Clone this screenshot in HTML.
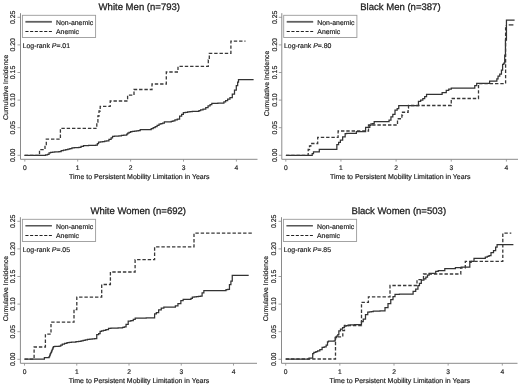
<!DOCTYPE html>
<html><head><meta charset="utf-8"><style>
html,body{margin:0;padding:0;background:#fff;}
svg{display:block;filter:blur(0.35px);}
text{text-rendering:geometricPrecision;font-family:"Liberation Sans", sans-serif;stroke:#222;stroke-width:0.18px;}
</style></head><body>
<svg width="520" height="386" viewBox="0 0 520 386">
<rect width="520" height="386" fill="#fff"/>
<text x="139.3" y="10.1" font-size="9.55" text-anchor="middle" fill="#222" style="stroke-width:0.28px">White Men (n=793)</text>
<path d="M20.5,13.2 V159.3 H257.5" fill="none" stroke="#8a8a8a" stroke-width="1"/>
<path d="M17.5,155.30 H20.5" stroke="#8a8a8a" stroke-width="0.8"/>
<text transform="translate(15.2,155.30) rotate(-90)" font-size="6.9" text-anchor="middle" fill="#222">0.00</text>
<path d="M17.5,127.70 H20.5" stroke="#8a8a8a" stroke-width="0.8"/>
<text transform="translate(15.2,127.70) rotate(-90)" font-size="6.9" text-anchor="middle" fill="#222">0.05</text>
<path d="M17.5,100.10 H20.5" stroke="#8a8a8a" stroke-width="0.8"/>
<text transform="translate(15.2,100.10) rotate(-90)" font-size="6.9" text-anchor="middle" fill="#222">0.10</text>
<path d="M17.5,72.50 H20.5" stroke="#8a8a8a" stroke-width="0.8"/>
<text transform="translate(15.2,72.50) rotate(-90)" font-size="6.9" text-anchor="middle" fill="#222">0.15</text>
<path d="M17.5,44.90 H20.5" stroke="#8a8a8a" stroke-width="0.8"/>
<text transform="translate(15.2,44.90) rotate(-90)" font-size="6.9" text-anchor="middle" fill="#222">0.20</text>
<path d="M17.5,17.30 H20.5" stroke="#8a8a8a" stroke-width="0.8"/>
<text transform="translate(15.2,17.30) rotate(-90)" font-size="6.9" text-anchor="middle" fill="#222">0.25</text>
<path d="M24.80,159.3 V161.60000000000002" stroke="#8a8a8a" stroke-width="0.8"/>
<text x="24.80" y="169.6" font-size="6.7" text-anchor="middle" fill="#222">0</text>
<path d="M77.70,159.3 V161.60000000000002" stroke="#8a8a8a" stroke-width="0.8"/>
<text x="77.70" y="169.6" font-size="6.7" text-anchor="middle" fill="#222">1</text>
<path d="M130.60,159.3 V161.60000000000002" stroke="#8a8a8a" stroke-width="0.8"/>
<text x="130.60" y="169.6" font-size="6.7" text-anchor="middle" fill="#222">2</text>
<path d="M183.50,159.3 V161.60000000000002" stroke="#8a8a8a" stroke-width="0.8"/>
<text x="183.50" y="169.6" font-size="6.7" text-anchor="middle" fill="#222">3</text>
<path d="M236.40,159.3 V161.60000000000002" stroke="#8a8a8a" stroke-width="0.8"/>
<text x="236.40" y="169.6" font-size="6.7" text-anchor="middle" fill="#222">4</text>
<text x="139.3" y="178.9" font-size="7.0" text-anchor="middle" fill="#222">Time to Persistent Mobility Limitation in Years</text>
<text transform="translate(7.5,87.3) rotate(-90)" font-size="6.85" text-anchor="middle" fill="#222">Cumulative Incidence</text>
<rect x="22.4" y="15.3" width="73.2" height="22.2" fill="#fff" stroke="#9a9a9a" stroke-width="0.9"/>
<path d="M25.4,21.8 H51.9" stroke="#606060" stroke-width="1.8"/>
<path d="M25.4,31.5 H51.9" stroke="#222" stroke-width="1" stroke-dasharray="3.1,1.6"/>
<text x="56.0" y="24.6" font-size="6.9" fill="#222">Non-anemic</text>
<text x="56.0" y="34.3" font-size="6.9" fill="#222">Anemic</text>
<text x="22.7" y="48.2" font-size="6.9" fill="#222">Log-rank <tspan font-style="italic">P</tspan>=.01</text>
<path d="M24.40,155.40 L44.60,155.40 L45.58,155.40 L45.58,154.90 L47.52,154.90 L47.52,154.40 L48.50,154.40 L49.05,154.40 L49.05,152.80 L49.60,152.80 L50.55,152.80 L50.55,152.30 L51.50,152.30 L52.56,152.30 L52.56,152.12 L54.69,152.12 L54.69,151.95 L56.81,151.95 L56.81,151.78 L58.94,151.78 L58.94,151.60 L60.00,151.60 L61.15,151.60 L61.15,150.50 L62.30,150.50 L63.45,150.50 L63.45,150.10 L65.75,150.10 L65.75,149.70 L66.90,149.70 L67.88,149.70 L67.88,149.15 L69.83,149.15 L69.83,148.60 L70.80,148.60 L71.95,148.60 L71.95,147.90 L73.10,147.90 L74.25,147.90 L74.25,147.73 L76.55,147.73 L76.55,147.57 L78.85,147.57 L78.85,147.40 L80.00,147.40 L81.00,147.40 L81.00,146.30 L82.00,146.30 L83.50,146.30 L83.50,145.60 L85.00,145.60 L86.19,145.60 L86.19,145.52 L88.57,145.52 L88.57,145.44 L90.95,145.44 L90.95,145.36 L93.33,145.36 L93.33,145.28 L95.71,145.28 L95.71,145.20 L96.90,145.20 L97.35,145.20 L97.35,143.50 L97.80,143.50 L98.55,143.50 L98.55,142.20 L99.30,142.20 L100.40,142.20 L100.40,141.95 L102.60,141.95 L102.60,141.70 L103.70,141.70 L104.65,141.70 L104.65,141.22 L106.55,141.22 L106.55,140.75 L107.50,140.75 L108.95,140.75 L108.95,139.30 L110.40,139.30 L111.10,139.30 L111.10,137.80 L111.80,137.80 L112.55,137.80 L112.55,136.40 L113.30,136.40 L114.42,136.40 L114.42,136.23 L116.65,136.23 L116.65,136.07 L118.88,136.07 L118.88,135.90 L120.00,135.90 L121.45,135.90 L121.45,135.30 L122.90,135.30 L123.74,135.30 L123.74,135.15 L125.41,135.15 L125.41,135.00 L126.25,135.00 L126.72,135.00 L126.72,134.00 L127.20,134.00 L127.70,134.00 L127.70,133.10 L128.20,133.10 L129.02,133.10 L129.02,132.35 L130.68,132.35 L130.68,131.60 L131.50,131.60 L132.47,131.60 L132.47,131.35 L134.43,131.35 L134.43,131.10 L135.40,131.10 L136.35,131.10 L136.35,130.90 L138.25,130.90 L138.25,130.70 L139.20,130.70 L140.20,130.70 L140.20,129.70 L141.20,129.70 L142.32,129.70 L142.32,129.67 L144.57,129.67 L144.57,129.65 L146.82,129.65 L146.82,129.62 L149.07,129.62 L149.07,129.60 L150.20,129.60 L151.20,129.60 L151.20,128.65 L153.20,128.65 L153.20,127.70 L154.20,127.70 L155.17,127.70 L155.17,126.53 L157.10,126.53 L157.10,125.37 L159.03,125.37 L159.03,124.20 L160.00,124.20 L160.88,124.20 L160.88,123.65 L162.62,123.65 L162.62,123.10 L163.50,123.10 L164.35,123.10 L164.35,121.90 L165.20,121.90 L170.40,121.90 L171.25,121.90 L171.25,121.35 L172.95,121.35 L172.95,120.80 L173.80,120.80 L174.95,120.80 L174.95,119.90 L177.25,119.90 L177.25,119.00 L178.40,119.00 L179.60,119.00 L179.60,116.10 L180.80,116.10 L181.65,116.10 L181.65,114.40 L183.35,114.40 L183.35,112.70 L184.20,112.70 L185.35,112.70 L185.35,112.30 L187.65,112.30 L187.65,111.90 L189.95,111.90 L189.95,111.50 L191.10,111.50 L192.27,111.50 L192.27,111.43 L194.60,111.43 L194.60,111.37 L196.93,111.37 L196.93,111.30 L198.10,111.30 L198.95,111.30 L198.95,110.55 L200.65,110.55 L200.65,109.80 L201.50,109.80 L203.05,109.80 L203.05,109.20 L204.60,109.20 L205.75,109.20 L205.75,107.50 L208.05,107.50 L208.05,105.80 L209.20,105.80 L210.07,105.80 L210.07,104.60 L211.82,104.60 L211.82,103.40 L212.70,103.40 L213.73,103.40 L213.73,103.34 L215.79,103.34 L215.79,103.28 L217.85,103.28 L217.85,103.22 L219.91,103.22 L219.91,103.16 L221.97,103.16 L221.97,103.10 L223.00,103.10 L223.88,103.10 L223.88,101.85 L225.62,101.85 L225.62,100.60 L226.50,100.60 L227.65,100.60 L227.65,99.15 L229.95,99.15 L229.95,97.70 L231.10,97.70 L232.30,97.70 L232.30,94.00 L233.50,94.00 L234.50,94.00 L234.50,90.00 L235.50,90.00 L236.30,90.00 L236.30,85.50 L237.10,85.50 L237.65,85.50 L237.65,82.00 L238.20,82.00 L238.50,82.00 L238.50,79.50 L238.80,79.50 L253.60,79.50" fill="none" stroke="#333" stroke-width="1.25" stroke-linejoin="miter"/>
<path d="M24.70,155.30 L39.50,155.30 L39.50,149.70 L45.00,149.70 L45.00,144.50 L46.30,144.50 L46.30,139.20 L60.40,139.20 L60.40,128.40 L96.80,128.40 L96.80,122.00 L97.90,122.00 L97.90,116.00 L99.00,116.00 L99.00,111.00 L100.20,111.00 L100.20,106.40 L110.20,106.40 L110.20,101.00 L127.60,101.00 L127.60,95.20 L134.00,95.20 L134.00,89.50 L152.00,89.50 L152.00,84.00 L166.30,84.00 L166.30,72.00 L178.00,72.00 L178.00,66.30 L208.30,66.30 L208.30,60.00 L209.30,60.00 L209.30,53.30 L230.90,53.30 L230.90,41.10 L245.50,41.10" fill="none" stroke="#383838" stroke-width="1.3" stroke-dasharray="3.4,1.9"/>
<text x="400.4" y="10.1" font-size="9.55" text-anchor="middle" fill="#222" style="stroke-width:0.28px">Black Men (n=387)</text>
<path d="M281.8,13.2 V159.3 H518.0" fill="none" stroke="#8a8a8a" stroke-width="1"/>
<path d="M278.8,155.30 H281.8" stroke="#8a8a8a" stroke-width="0.8"/>
<text transform="translate(276.5,155.30) rotate(-90)" font-size="6.9" text-anchor="middle" fill="#222">0.00</text>
<path d="M278.8,127.70 H281.8" stroke="#8a8a8a" stroke-width="0.8"/>
<text transform="translate(276.5,127.70) rotate(-90)" font-size="6.9" text-anchor="middle" fill="#222">0.05</text>
<path d="M278.8,100.10 H281.8" stroke="#8a8a8a" stroke-width="0.8"/>
<text transform="translate(276.5,100.10) rotate(-90)" font-size="6.9" text-anchor="middle" fill="#222">0.10</text>
<path d="M278.8,72.50 H281.8" stroke="#8a8a8a" stroke-width="0.8"/>
<text transform="translate(276.5,72.50) rotate(-90)" font-size="6.9" text-anchor="middle" fill="#222">0.15</text>
<path d="M278.8,44.90 H281.8" stroke="#8a8a8a" stroke-width="0.8"/>
<text transform="translate(276.5,44.90) rotate(-90)" font-size="6.9" text-anchor="middle" fill="#222">0.20</text>
<path d="M278.8,17.30 H281.8" stroke="#8a8a8a" stroke-width="0.8"/>
<text transform="translate(276.5,17.30) rotate(-90)" font-size="6.9" text-anchor="middle" fill="#222">0.25</text>
<path d="M285.80,159.3 V161.60000000000002" stroke="#8a8a8a" stroke-width="0.8"/>
<text x="285.80" y="169.6" font-size="6.7" text-anchor="middle" fill="#222">0</text>
<path d="M340.95,159.3 V161.60000000000002" stroke="#8a8a8a" stroke-width="0.8"/>
<text x="340.95" y="169.6" font-size="6.7" text-anchor="middle" fill="#222">1</text>
<path d="M396.10,159.3 V161.60000000000002" stroke="#8a8a8a" stroke-width="0.8"/>
<text x="396.10" y="169.6" font-size="6.7" text-anchor="middle" fill="#222">2</text>
<path d="M451.25,159.3 V161.60000000000002" stroke="#8a8a8a" stroke-width="0.8"/>
<text x="451.25" y="169.6" font-size="6.7" text-anchor="middle" fill="#222">3</text>
<path d="M506.40,159.3 V161.60000000000002" stroke="#8a8a8a" stroke-width="0.8"/>
<text x="506.40" y="169.6" font-size="6.7" text-anchor="middle" fill="#222">4</text>
<text x="400.2" y="178.9" font-size="7.0" text-anchor="middle" fill="#222">Time to Persistent Mobility Limitation in Years</text>
<text transform="translate(268.8,83.5) rotate(-90)" font-size="6.85" text-anchor="middle" fill="#222">Cumulative Incidence</text>
<rect x="283.7" y="15.3" width="73.2" height="22.2" fill="#fff" stroke="#9a9a9a" stroke-width="0.9"/>
<path d="M286.7,21.8 H313.2" stroke="#606060" stroke-width="1.8"/>
<path d="M286.7,31.5 H313.2" stroke="#222" stroke-width="1" stroke-dasharray="3.1,1.6"/>
<text x="317.3" y="24.6" font-size="6.9" fill="#222">Non-anemic</text>
<text x="317.3" y="34.3" font-size="6.9" fill="#222">Anemic</text>
<text x="284.0" y="48.2" font-size="6.9" fill="#222">Log-rank <tspan font-style="italic">P</tspan>=.80</text>
<path d="M285.90,155.40 L312.20,155.40 L312.20,153.50 L313.50,153.50 L313.50,151.90 L319.30,151.90 L319.30,149.40 L336.00,149.40 L336.85,149.40 L336.85,144.60 L337.70,144.60 L338.60,144.60 L338.60,142.30 L340.40,142.30 L340.40,140.00 L341.30,140.00 L342.65,140.00 L342.65,136.80 L344.00,136.80 L345.15,136.80 L345.15,133.60 L346.30,133.60 L346.65,133.60 L346.65,133.40 L347.00,133.40 L355.80,133.40 L356.35,133.40 L356.35,131.50 L356.90,131.50 L365.40,131.50 L365.60,131.50 L365.60,127.30 L365.80,127.30 L369.20,127.30 L369.80,127.30 L369.80,125.40 L370.40,125.40 L370.95,125.40 L370.95,123.80 L371.50,123.80 L372.65,123.80 L372.65,123.50 L373.80,123.50 L374.20,123.50 L374.20,121.50 L374.60,121.50 L388.10,121.50 L389.05,121.50 L389.05,120.00 L390.00,120.00 L390.95,120.00 L390.95,116.90 L391.90,116.90 L392.82,116.90 L392.82,114.40 L393.75,114.40 L395.00,114.40 L395.00,110.00 L396.25,110.00 L397.18,110.00 L397.18,108.50 L398.10,108.50 L398.75,108.50 L398.75,105.60 L399.40,105.60 L417.50,105.60 L418.45,105.60 L418.45,101.25 L419.40,101.25 L420.65,101.25 L420.65,100.00 L421.90,100.00 L422.82,100.00 L422.82,98.50 L423.75,98.50 L424.68,98.50 L424.68,96.50 L425.60,96.50 L426.55,96.50 L426.55,94.40 L427.50,94.40 L441.25,94.40 L442.12,94.40 L442.12,92.50 L443.00,92.50 L445.00,92.50 L446.25,92.50 L446.25,90.25 L447.50,90.25 L448.75,90.25 L448.75,89.17 L451.25,89.17 L451.25,88.10 L452.50,88.10 L473.75,88.10 L474.77,88.10 L474.77,85.50 L475.80,85.50 L476.70,85.50 L476.70,83.30 L477.60,83.30 L489.20,83.30 L489.60,83.30 L489.60,81.20 L490.00,81.20 L496.20,81.20 L496.85,81.20 L496.85,78.90 L497.50,78.90 L498.05,78.90 L498.05,76.00 L498.60,76.00 L499.75,76.00 L499.75,74.20 L500.90,74.20 L501.45,74.20 L501.45,70.20 L502.00,70.20 L502.60,70.20 L502.60,64.30 L503.20,64.30 L503.80,64.30 L503.80,63.20 L504.40,63.20 L504.70,63.20 L504.70,55.00 L505.00,55.00 L505.45,55.00 L505.45,40.00 L505.90,40.00 L506.45,40.00 L506.45,20.20 L507.00,20.20 L514.60,20.20" fill="none" stroke="#333" stroke-width="1.25" stroke-linejoin="miter"/>
<path d="M285.90,155.40 L308.20,155.40 L308.20,149.50 L309.50,149.50 L309.50,146.00 L310.80,146.00 L310.80,143.50 L317.70,143.50 L317.70,137.30 L338.10,137.30 L338.10,131.00 L368.50,131.00 L368.50,125.00 L397.50,125.00 L397.50,118.75 L401.90,118.75 L401.90,115.00 L402.50,115.00 L402.50,112.25 L408.10,112.25 L408.10,108.10 L408.50,108.10 L408.50,105.50 L451.25,105.50 L451.25,98.50 L478.50,98.50 L478.50,83.60 L505.60,83.60 L505.60,24.90" fill="none" stroke="#383838" stroke-width="1.3" stroke-dasharray="3.4,1.9"/>
<path d="M508.7,24.9 H513.4" stroke="#383838" stroke-width="1.3"/>
<text x="138.2" y="214.1" font-size="9.55" text-anchor="middle" fill="#222" style="stroke-width:0.28px">White Women (n=692)</text>
<path d="M20.4,217.2 V363.3 H257.0" fill="none" stroke="#8a8a8a" stroke-width="1"/>
<path d="M17.4,359.30 H20.4" stroke="#8a8a8a" stroke-width="0.8"/>
<text transform="translate(15.1,359.30) rotate(-90)" font-size="6.9" text-anchor="middle" fill="#222">0.00</text>
<path d="M17.4,331.70 H20.4" stroke="#8a8a8a" stroke-width="0.8"/>
<text transform="translate(15.1,331.70) rotate(-90)" font-size="6.9" text-anchor="middle" fill="#222">0.05</text>
<path d="M17.4,304.10 H20.4" stroke="#8a8a8a" stroke-width="0.8"/>
<text transform="translate(15.1,304.10) rotate(-90)" font-size="6.9" text-anchor="middle" fill="#222">0.10</text>
<path d="M17.4,276.50 H20.4" stroke="#8a8a8a" stroke-width="0.8"/>
<text transform="translate(15.1,276.50) rotate(-90)" font-size="6.9" text-anchor="middle" fill="#222">0.15</text>
<path d="M17.4,248.90 H20.4" stroke="#8a8a8a" stroke-width="0.8"/>
<text transform="translate(15.1,248.90) rotate(-90)" font-size="6.9" text-anchor="middle" fill="#222">0.20</text>
<path d="M17.4,221.30 H20.4" stroke="#8a8a8a" stroke-width="0.8"/>
<text transform="translate(15.1,221.30) rotate(-90)" font-size="6.9" text-anchor="middle" fill="#222">0.25</text>
<path d="M24.50,363.3 V365.6" stroke="#8a8a8a" stroke-width="0.8"/>
<text x="24.50" y="373.6" font-size="6.7" text-anchor="middle" fill="#222">0</text>
<path d="M76.75,363.3 V365.6" stroke="#8a8a8a" stroke-width="0.8"/>
<text x="76.75" y="373.6" font-size="6.7" text-anchor="middle" fill="#222">1</text>
<path d="M129.00,363.3 V365.6" stroke="#8a8a8a" stroke-width="0.8"/>
<text x="129.00" y="373.6" font-size="6.7" text-anchor="middle" fill="#222">2</text>
<path d="M181.25,363.3 V365.6" stroke="#8a8a8a" stroke-width="0.8"/>
<text x="181.25" y="373.6" font-size="6.7" text-anchor="middle" fill="#222">3</text>
<path d="M233.50,363.3 V365.6" stroke="#8a8a8a" stroke-width="0.8"/>
<text x="233.50" y="373.6" font-size="6.7" text-anchor="middle" fill="#222">4</text>
<text x="139.0" y="382.9" font-size="7.0" text-anchor="middle" fill="#222">Time to Persistent Mobility Limitation in Years</text>
<text transform="translate(7.5,288.6) rotate(-90)" font-size="6.85" text-anchor="middle" fill="#222">Cumulative Incidence</text>
<rect x="22.4" y="219.3" width="73.2" height="22.2" fill="#fff" stroke="#9a9a9a" stroke-width="0.9"/>
<path d="M25.4,225.8 H51.9" stroke="#3a3a3a" stroke-width="1.3"/>
<path d="M25.4,235.5 H51.9" stroke="#222" stroke-width="1" stroke-dasharray="3.1,1.6"/>
<text x="56.0" y="228.6" font-size="6.9" fill="#222">Non-anemic</text>
<text x="56.0" y="238.3" font-size="6.9" fill="#222">Anemic</text>
<text x="22.7" y="252.2" font-size="6.9" fill="#222">Log-rank <tspan font-style="italic">P</tspan>=.05</text>
<path d="M24.50,359.10 L44.40,359.10 L44.40,357.50 L48.80,357.50 L49.10,357.50 L49.10,356.60 L49.40,356.60 L49.70,356.60 L49.70,355.00 L50.00,355.00 L50.30,355.00 L50.30,353.60 L50.60,353.60 L50.90,353.60 L50.90,352.30 L51.20,352.30 L51.55,352.30 L51.55,350.80 L51.90,350.80 L52.20,350.80 L52.20,349.30 L52.50,349.30 L52.80,349.30 L52.80,347.90 L53.10,347.90 L53.40,347.90 L53.40,346.50 L53.70,346.50 L54.78,346.50 L54.78,346.40 L56.95,346.40 L56.95,346.30 L59.12,346.30 L59.12,346.20 L60.20,346.20 L60.75,346.20 L60.75,345.20 L61.30,345.20 L62.30,345.20 L62.30,344.10 L63.30,344.10 L64.53,344.10 L64.53,343.30 L66.97,343.30 L66.97,342.50 L68.20,342.50 L69.27,342.50 L69.27,342.33 L71.40,342.33 L71.40,342.17 L73.53,342.17 L73.53,342.00 L74.60,342.00 L75.95,342.00 L75.95,341.62 L78.65,341.62 L78.65,341.25 L80.00,341.25 L81.04,341.25 L81.04,340.75 L83.12,340.75 L83.12,340.25 L85.21,340.25 L85.21,339.75 L86.25,339.75 L87.44,339.75 L87.44,339.46 L89.83,339.46 L89.83,339.18 L92.22,339.18 L92.22,338.89 L94.61,338.89 L94.61,338.60 L95.80,338.60 L96.75,338.60 L96.75,334.70 L97.70,334.70 L98.65,334.70 L98.65,333.60 L99.60,333.60 L100.10,333.60 L100.10,331.30 L100.60,331.30 L101.55,331.30 L101.55,330.85 L103.45,330.85 L103.45,330.40 L104.40,330.40 L105.85,330.40 L105.85,329.70 L107.30,329.70 L108.50,329.70 L108.50,328.30 L109.70,328.30 L110.90,328.30 L110.90,328.20 L113.30,328.20 L113.30,328.10 L115.70,328.10 L115.70,328.00 L118.10,328.00 L118.10,327.90 L120.50,327.90 L120.50,327.80 L121.70,327.80 L122.55,327.80 L122.55,327.30 L124.25,327.30 L124.25,326.80 L125.10,326.80 L126.05,326.80 L126.05,324.40 L127.00,324.40 L128.20,324.40 L128.20,321.10 L129.40,321.10 L130.85,321.10 L130.85,320.60 L132.30,320.60 L133.28,320.60 L133.28,319.40 L135.22,319.40 L135.22,318.20 L136.20,318.20 L137.31,318.20 L137.31,318.15 L139.54,318.15 L139.54,318.10 L141.76,318.10 L141.76,318.05 L143.99,318.05 L143.99,318.00 L146.21,318.00 L146.21,317.95 L148.44,317.95 L148.44,317.90 L150.66,317.90 L150.66,317.85 L152.89,317.85 L152.89,317.80 L154.00,317.80 L154.60,317.80 L154.60,313.80 L155.20,313.80 L156.35,313.80 L156.35,312.70 L157.50,312.70 L158.65,312.70 L158.65,309.80 L159.80,309.80 L161.25,309.80 L161.25,308.10 L162.70,308.10 L163.85,308.10 L163.85,307.10 L165.00,307.10 L174.20,307.10 L175.35,307.10 L175.35,305.80 L176.50,305.80 L177.95,305.80 L177.95,303.50 L179.40,303.50 L180.85,303.50 L180.85,300.60 L182.30,300.60 L183.15,300.60 L183.15,299.40 L184.00,299.40 L190.40,299.40 L190.95,299.40 L190.95,298.30 L191.50,298.30 L192.35,298.30 L192.35,297.10 L193.20,297.10 L194.27,297.10 L194.27,296.80 L196.43,296.80 L196.43,296.50 L197.50,296.50 L198.50,296.50 L198.50,296.25 L200.50,296.25 L200.50,296.00 L201.50,296.00 L202.10,296.00 L202.10,292.90 L202.70,292.90 L203.85,292.90 L203.85,290.50 L205.00,290.50 L225.40,290.50 L226.00,290.50 L226.00,289.70 L226.60,289.70 L227.75,289.70 L227.75,289.40 L228.90,289.40 L229.45,289.40 L229.45,284.70 L230.00,284.70 L230.90,284.70 L230.90,281.20 L231.80,281.20 L232.25,281.20 L232.25,275.40 L232.70,275.40 L248.70,275.40" fill="none" stroke="#333" stroke-width="1.25" stroke-linejoin="miter"/>
<path d="M24.50,359.10 L34.10,359.10 L34.10,347.00 L45.40,347.00 L45.40,334.20 L51.00,334.20 L51.00,322.20 L74.00,322.20 L74.00,309.60 L76.80,309.60 L76.80,297.10 L101.70,297.10 L101.70,284.50 L110.40,284.50 L110.40,272.00 L135.10,272.00 L135.10,259.70 L154.60,259.70 L154.60,246.90 L194.00,246.90 L194.00,233.20 L252.60,233.20" fill="none" stroke="#383838" stroke-width="1.3" stroke-dasharray="3.4,1.9"/>
<text x="398.8" y="214.1" font-size="9.55" text-anchor="middle" fill="#222" style="stroke-width:0.28px">Black Women (n=503)</text>
<path d="M281.5,217.2 V363.3 H517.5" fill="none" stroke="#8a8a8a" stroke-width="1"/>
<path d="M278.5,359.30 H281.5" stroke="#8a8a8a" stroke-width="0.8"/>
<text transform="translate(276.2,359.30) rotate(-90)" font-size="6.9" text-anchor="middle" fill="#222">0.00</text>
<path d="M278.5,331.70 H281.5" stroke="#8a8a8a" stroke-width="0.8"/>
<text transform="translate(276.2,331.70) rotate(-90)" font-size="6.9" text-anchor="middle" fill="#222">0.05</text>
<path d="M278.5,304.10 H281.5" stroke="#8a8a8a" stroke-width="0.8"/>
<text transform="translate(276.2,304.10) rotate(-90)" font-size="6.9" text-anchor="middle" fill="#222">0.10</text>
<path d="M278.5,276.50 H281.5" stroke="#8a8a8a" stroke-width="0.8"/>
<text transform="translate(276.2,276.50) rotate(-90)" font-size="6.9" text-anchor="middle" fill="#222">0.15</text>
<path d="M278.5,248.90 H281.5" stroke="#8a8a8a" stroke-width="0.8"/>
<text transform="translate(276.2,248.90) rotate(-90)" font-size="6.9" text-anchor="middle" fill="#222">0.20</text>
<path d="M278.5,221.30 H281.5" stroke="#8a8a8a" stroke-width="0.8"/>
<text transform="translate(276.2,221.30) rotate(-90)" font-size="6.9" text-anchor="middle" fill="#222">0.25</text>
<path d="M285.70,363.3 V365.6" stroke="#8a8a8a" stroke-width="0.8"/>
<text x="285.70" y="373.6" font-size="6.7" text-anchor="middle" fill="#222">0</text>
<path d="M339.85,363.3 V365.6" stroke="#8a8a8a" stroke-width="0.8"/>
<text x="339.85" y="373.6" font-size="6.7" text-anchor="middle" fill="#222">1</text>
<path d="M394.00,363.3 V365.6" stroke="#8a8a8a" stroke-width="0.8"/>
<text x="394.00" y="373.6" font-size="6.7" text-anchor="middle" fill="#222">2</text>
<path d="M448.15,363.3 V365.6" stroke="#8a8a8a" stroke-width="0.8"/>
<text x="448.15" y="373.6" font-size="6.7" text-anchor="middle" fill="#222">3</text>
<path d="M502.30,363.3 V365.6" stroke="#8a8a8a" stroke-width="0.8"/>
<text x="502.30" y="373.6" font-size="6.7" text-anchor="middle" fill="#222">4</text>
<text x="399.8" y="382.9" font-size="7.0" text-anchor="middle" fill="#222">Time to Persistent Mobility Limitation in Years</text>
<text transform="translate(268.4,288.6) rotate(-90)" font-size="6.85" text-anchor="middle" fill="#222">Cumulative Incidence</text>
<rect x="283.4" y="219.3" width="73.2" height="22.2" fill="#fff" stroke="#9a9a9a" stroke-width="0.9"/>
<path d="M286.4,225.8 H312.9" stroke="#3a3a3a" stroke-width="1.3"/>
<path d="M286.4,235.5 H312.9" stroke="#222" stroke-width="1" stroke-dasharray="3.1,1.6"/>
<text x="317.0" y="228.6" font-size="6.9" fill="#222">Non-anemic</text>
<text x="317.0" y="238.3" font-size="6.9" fill="#222">Anemic</text>
<text x="283.7" y="252.2" font-size="6.9" fill="#222">Log-rank <tspan font-style="italic">P</tspan>=.85</text>
<path d="M285.70,359.00 L309.00,359.00 L309.00,358.10 L312.70,358.10 L312.70,353.50 L313.85,353.50 L313.85,352.30 L315.00,352.30 L315.88,352.30 L315.88,351.55 L317.62,351.55 L317.62,350.80 L318.50,350.80 L319.85,350.80 L319.85,349.60 L321.20,349.60 L322.10,349.60 L322.10,347.30 L323.00,347.30 L324.20,347.30 L324.20,346.90 L325.40,346.90 L326.15,346.90 L326.15,345.00 L326.90,345.00 L327.50,345.00 L327.50,341.90 L328.10,341.90 L328.45,341.90 L328.45,341.20 L328.80,341.20 L333.80,341.20 L334.20,341.20 L334.20,340.80 L334.60,340.80 L335.20,340.80 L335.20,337.70 L335.80,337.70 L336.55,337.70 L336.55,336.20 L337.30,336.20 L337.85,336.20 L337.85,334.50 L338.40,334.50 L338.85,334.50 L338.85,330.90 L339.30,330.90 L340.50,330.90 L340.50,329.10 L341.70,329.10 L342.57,329.10 L342.57,327.65 L344.32,327.65 L344.32,326.20 L345.20,326.20 L346.20,326.20 L346.20,325.65 L348.20,325.65 L348.20,325.10 L349.20,325.10 L350.31,325.10 L350.31,324.98 L352.53,324.98 L352.53,324.86 L354.75,324.86 L354.75,324.74 L356.97,324.74 L356.97,324.62 L359.19,324.62 L359.19,324.50 L360.30,324.50 L361.45,324.50 L361.45,321.60 L362.60,321.60 L363.25,321.60 L363.25,319.20 L363.90,319.20 L365.50,319.20 L365.50,314.70 L367.10,314.70 L367.75,314.70 L367.75,312.10 L368.40,312.10 L369.37,312.10 L369.37,311.80 L371.30,311.80 L371.30,311.50 L373.23,311.50 L373.23,311.20 L374.20,311.20 L375.36,311.20 L375.36,311.10 L377.69,311.10 L377.69,311.00 L380.01,311.00 L380.01,310.90 L382.34,310.90 L382.34,310.80 L383.50,310.80 L385.00,310.80 L385.00,307.50 L386.50,307.50 L388.00,307.50 L388.00,303.50 L389.50,303.50 L390.75,303.50 L390.75,299.50 L392.00,299.50 L393.00,299.50 L393.00,296.50 L394.00,296.50 L395.00,296.50 L395.00,294.30 L396.00,294.30 L397.13,294.30 L397.13,294.26 L399.39,294.26 L399.39,294.21 L401.64,294.21 L401.64,294.17 L403.90,294.17 L403.90,294.13 L406.16,294.13 L406.16,294.09 L408.41,294.09 L408.41,294.04 L410.67,294.04 L410.67,294.00 L411.80,294.00 L413.10,294.00 L413.10,291.40 L414.40,291.40 L415.70,291.40 L415.70,289.20 L417.00,289.20 L417.95,289.20 L417.95,285.50 L418.90,285.50 L419.45,285.50 L419.45,283.40 L420.00,283.40 L421.30,283.40 L421.30,280.20 L422.60,280.20 L423.90,280.20 L423.90,278.90 L425.20,278.90 L425.85,278.90 L425.85,277.00 L426.50,277.00 L427.50,277.00 L427.50,275.00 L428.50,275.00 L429.15,275.00 L429.15,273.40 L429.80,273.40 L435.30,273.40 L435.70,273.40 L435.70,271.40 L436.10,271.40 L438.00,271.40 L438.25,271.40 L438.25,270.50 L438.50,270.50 L444.40,270.50 L444.80,270.50 L444.80,268.60 L445.20,268.60 L455.00,268.60 L455.40,268.60 L455.40,267.60 L455.80,267.60 L460.80,267.60 L461.15,267.60 L461.15,267.10 L461.50,267.10 L469.40,267.10 L469.80,267.10 L469.80,262.30 L470.20,262.30 L471.15,262.30 L471.15,261.30 L472.10,261.30 L473.50,261.30 L474.00,261.30 L474.00,258.40 L474.50,258.40 L475.70,258.40 L484.20,258.40 L485.30,258.40 L485.30,257.00 L486.40,257.00 L487.27,257.00 L487.27,256.30 L489.02,256.30 L489.02,255.60 L489.90,255.60 L491.00,255.60 L491.00,252.70 L492.10,252.70 L493.50,252.70 L493.50,250.60 L494.90,250.60 L495.65,250.60 L495.65,247.00 L496.40,247.00 L497.10,247.00 L497.10,244.60 L497.80,244.60 L513.40,244.60" fill="none" stroke="#333" stroke-width="1.25" stroke-linejoin="miter"/>
<path d="M285.70,359.00 L335.50,359.00 L335.50,336.80 L342.80,336.80 L342.80,330.60 L344.50,330.60 L344.50,325.50 L361.50,325.50 L361.50,302.30 L368.40,302.30 L368.40,296.80 L390.00,296.80 L390.00,285.50 L417.00,285.50 L417.00,279.70 L423.50,279.70 L423.50,274.00 L460.80,274.00 L460.80,267.80 L465.30,267.80 L465.30,261.40 L502.80,261.40 L502.80,233.20 L511.30,233.20" fill="none" stroke="#383838" stroke-width="1.3" stroke-dasharray="3.4,1.9"/>
</svg>
</body></html>
